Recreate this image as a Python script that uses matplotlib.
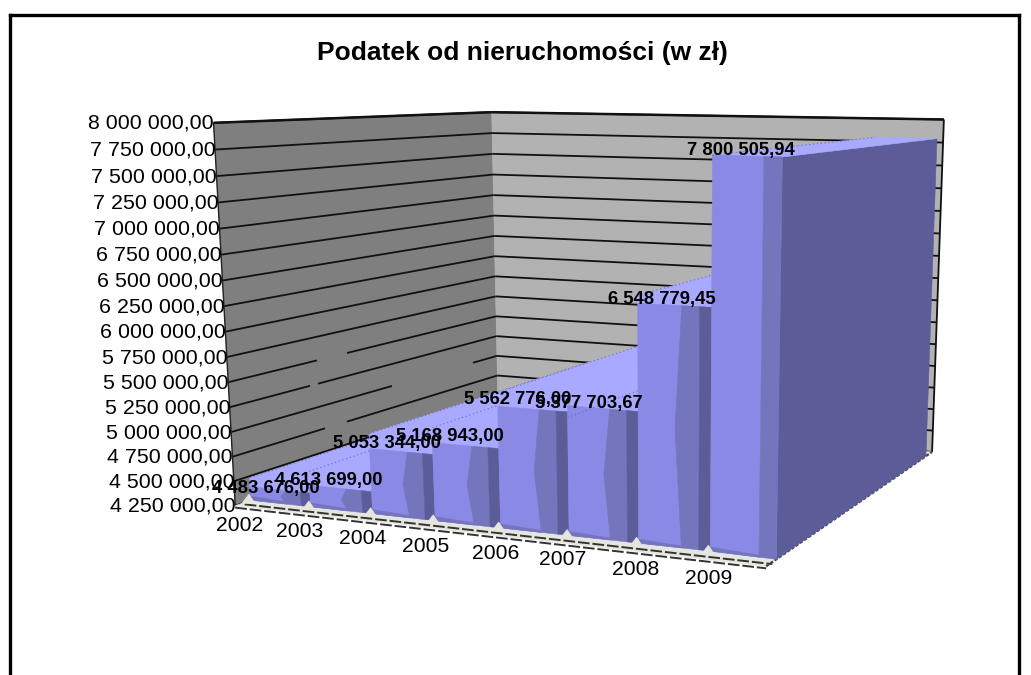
import numpy as np
import matplotlib
matplotlib.use("Agg")
import matplotlib.pyplot as plt

plt.rcParams['font.family'] = ['Liberation Sans', 'DejaVu Sans']

# ---- data
years = ['2002', '2003', '2004', '2005', '2006', '2007', '2008', '2009']
values = [4483676.00, 4613699.00, 5053344.00, 5168943.00, 5562776.00, 5377703.67, 6548779.45, 7800505.94]
value_labels = ['4 483 676,00', '4 613 699,00', '5 053 344,00', '5 168 943,00',
                '5 562 776,00', '5 377 703,67', '6 548 779,45', '7 800 505,94']
axis_ticks = [4250000 + 250000 * k for k in range(16)]
axis_labels = ['%d %03d 000,00' % (t // 1000000, (t % 1000000) // 1000) for t in axis_ticks]
V0, V1 = 4250000.0, 8000000.0

# ---- styling tweaks (pixels)
front_sag = [9, 14, 15, 15, 14, -12, 8, 0]
front_shift = [0, 1, 2, 2, 3, 5, 6, 7, 0]
label_nudge = [(-13.5, 8), (-11.5, 6), (-14, 7), (-15.5, 6), (-15, 4), (-13.5, -17), (-12.5, 2), (-6.5, -5)]
year_nudge = [(-11, 25), (-11.6, 24.7), (-10.2, 24.4), (-9.8, 26), (-5.4, 25.8), (-6, 24.5), (-2.6, 26.2), (-2.2, 26.9)]
grid_gaps = [(5500000, 317, 347), (5250000, 310, 318), (5000000, 392, 473), (4750000, 325, 347)]

# ---- camera: perspective projection calibrated on the box frame
calib = [
    (0, 0, V0, 250, 502), (1, 0, V0, 310, 507), (2, 0, V0, 370, 513), (3, 0, V0, 433, 521),
    (4, 0, V0, 498, 527), (5, 0, V0, 566, 535), (6, 0, V0, 637, 543), (7, 0, V0, 708, 552),
    (8, 0, V0, 770, 560), (8, 0, V1, 779, 133),
    (0, 1, V0, 497, 412), (0, 1, V1, 492, 115), (8, 1, V0, 931, 453), (8, 1, V1, 946, 118),
    (0, -0.05, V1, 214, 121), (0, -0.05, V0, 235, 506),
]


def _nv(v):
    return (np.asarray(v, float) - V0) / (V1 - V0)


A, b = [], []
for x, d, v, px, py in calib:
    w = float(_nv(v))
    A.append([x, d, w, 1, 0, 0, 0, 0, -px * x, -px * d, -px * w]); b.append(px)
    A.append([0, 0, 0, 0, x, d, w, 1, -py * x, -py * d, -py * w]); b.append(py)
M = np.linalg.lstsq(np.array(A, float), np.array(b, float), rcond=None)[0]
M = np.append(M, 1.0).reshape(3, 4)


def P(x, d, v, dx=0, dy=0):
    h = M @ np.array([x, d, float(_nv(v)), 1.0])
    warp = np.interp(x, np.arange(len(front_shift)), front_shift) * max(1 - d, 0)
    return (h[0] / h[2] + dx + warp, h[1] / h[2] + dy)


fig = plt.figure(figsize=(10.31, 6.75), dpi=100, facecolor='white')
ax = fig.add_axes([0, 0, 1, 1])
ax.set_xlim(0, 1031)
ax.set_ylim(675, 0)
ax.axis('off')


def poly(pts, color, z=1):
    p = np.array(pts)
    ax.fill(p[:, 0], p[:, 1], color=color, lw=0.4, zorder=z)


def seg(a, b, **kw):
    ax.plot([a[0], b[0]], [a[1], b[1]], solid_capstyle='butt', **kw)


# outer frame
for xs, ys in [((9.5, 9.5), (675, 15)), ((9.5, 1018.5), (15, 15)), ((1018.5, 1018.5), (15, 675))]:
    ax.plot(xs, ys, color='black', lw=2.4, zorder=10, solid_capstyle='projecting')

ax.text(522, 53, 'Podatek od nieruchomości (w zł)', ha='center', va='center',
        fontsize=19, fontweight='bold', color='black')

# walls
FD = -0.05
poly([P(0, FD, V1), P(0, 1, V1), P(0, 1, V0), P(0, FD, V0)], '#7F7F7F', 1)
poly([P(0, 1, V1), P(8, 1, V1), P(8, 1, V0), P(0, 1, V0)], '#B2B2B2', 1)

# gridlines and axis labels
for t, lab in zip(axis_ticks, axis_labels):
    a, c, e = P(0, FD, t), P(0, 1, t), P(8, 1, t)
    seg(a, c, color='#111111', lw=1.3, zorder=2)
    seg(c, e, color='#111111', lw=1.3, zorder=2)
    ax.text(a[0] + 0.5, a[1] + 0.5, lab, ha='right', va='center', fontsize=15.4, color='black', zorder=8)
    for gv, g0, g1 in grid_gaps:
        if gv == t:
            f = lambda px: a[1] + (px - a[0]) * (c[1] - a[1]) / (c[0] - a[0])
            seg((g0, f(g0)), (g1, f(g1)), color='#7F7F7F', lw=2.4, zorder=2.1)
seg(P(0, FD, V1), P(0, FD, V0), color='#222222', lw=1.0, zorder=2)
seg(P(8, 1, V1), P(8, 1, V0), color='#111111', lw=1.3, zorder=2)
seg(P(0, FD, V1), P(0, 1, V1), color='#111111', lw=1.8, zorder=2)
seg(P(0, 1, V1), P(8, 1, V1), color='#111111', lw=1.8, zorder=2)

# floor strip
poly([P(0, FD, V0), P(8, FD, V0), P(8, 1, V0), P(0, 1, V0)], '#E6E6E0', 2)
for dd in (-0.02, -0.05):
    seg(P(0, dd, V0, dy=2), P(8, dd, V0, dy=2), color='#333333', lw=1.4, ls=(0, (6, 1.5)), zorder=3)
seg(P(8, FD, V0), P(8, 1, V0), color='#444444', lw=1.6, ls=(0, (1.5, 0.8)), zorder=3)

# area, drawn from left to right
TOP, FRONT, MID, DARK = '#A9A9FF', '#8A8AE6', '#7575BE', '#5C5C98'
BD = 0.95
last = len(values) - 1
for i, (v, sag) in enumerate(zip(values, front_sag)):
    z = 4 + i * 0.01
    # right side: the last one is a solid dark end, the inner ones blend with the top surface
    poly([P(i + 1, 0, V0), P(i + 1, BD, V0), P(i + 1, BD, v), P(i + 1, 0, v)],
         DARK if i == last else TOP, z)
    # top
    s = max(sag, 0)
    poly([P(i, 0, v, dy=s), P(i + 1, 0, v, dy=s), P(i + 1, 0, v), P(i + 1, BD, v),
          P(i, BD, v), P(i, 0, v)], TOP, z)
    # front facets
    f1, f2 = (0.74, 1.0) if i == last else (0.6, 0.84)
    poly([P(i, 0, V0), P(i + f1, 0, V0), P(i + f1, 0, v, dy=sag), P(i, 0, v, dy=sag)], FRONT, z)
    vm = 0.5 * (V0 + v)
    bulge = 0.0 if i == last else 0.09
    poly([P(i + f1, 0, V0), P(i + f2, 0, V0), P(i + f2, 0, v, dy=sag), P(i + f1, 0, v, dy=sag),
          P(i + f1 - bulge, 0, vm, dy=sag / 2)], MID, z)
    if i != last:
        poly([P(i + f2, 0, V0), P(i + 1, 0, V0), P(i + 1, 0, v, dy=sag), P(i + f2, 0, v, dy=sag)], DARK, z)
    # darker skirt at the foot of the front face
    poly([P(i, 0, V0), P(i + f1, 0, V0), P(i + f1, 0, V0, dy=-2), P(i, 0, V0, dy=-4)], MID, z)
    # dotted edge on the top surface
    seg(P(i, 0, v), P(i, BD, v), color='#6A6AB0', lw=0.8, ls=(0, (1, 2.5)), zorder=z)

# small floor bumps at each category start, and category labels
for i, (y, (nx, ny)) in enumerate(zip(years, year_nudge)):
    b0 = P(i, 0, V0)
    poly([(b0[0] - 9, b0[1] + 3), (b0[0] - 2, b0[1] - 6), (b0[0] + 4, b0[1] + 3)], '#E6E6E0', 5)
    ax.text(b0[0] + nx, b0[1] + ny, y, ha='center', va='center', fontsize=15.2, color='black', zorder=8)

# value labels
for i, (v, lab, (nx, ny)) in enumerate(zip(values, value_labels, label_nudge)):
    x, y = P(i + 0.5, 0, v)
    ax.text(x + nx, y + ny, lab, ha='center', va='center', fontsize=13.3, fontweight='bold',
            color='black', zorder=9)

fig.savefig('out.png', dpi=100, facecolor='white')
